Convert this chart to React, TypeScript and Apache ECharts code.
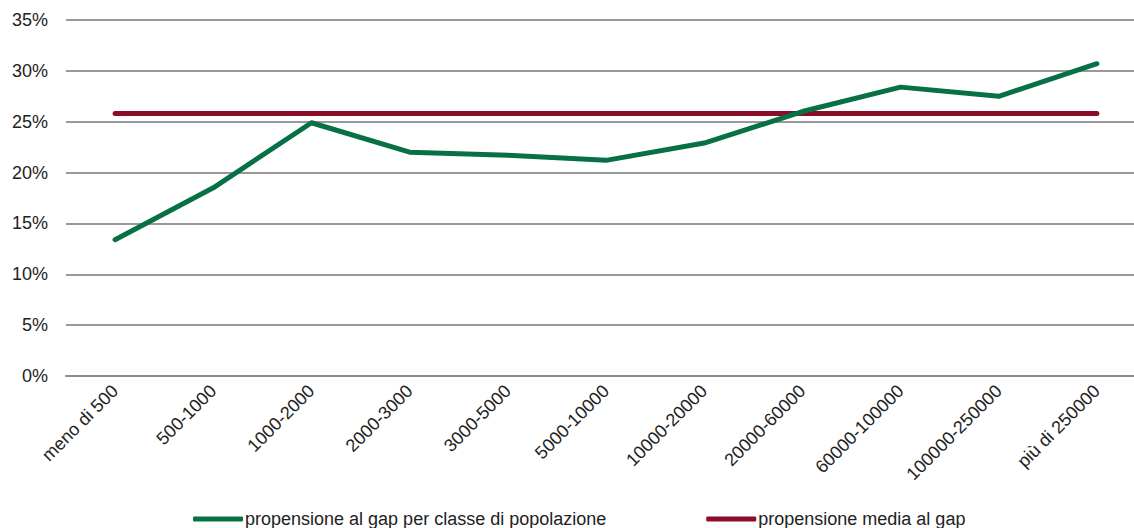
import React, { useEffect, useRef } from "react";
import * as echarts from "echarts";

const categories = [
  "meno di 500",
  "500-1000",
  "1000-2000",
  "2000-3000",
  "3000-5000",
  "5000-10000",
  "10000-20000",
  "20000-60000",
  "60000-100000",
  "100000-250000",
  "più di 250000",
];
const greenValues = [13.4, 18.5, 24.9, 22.0, 21.7, 21.2, 22.9, 26.0, 28.4, 27.5, 30.7];
const redValues = [25.8, 25.8, 25.8, 25.8, 25.8, 25.8, 25.8, 25.8, 25.8, 25.8, 25.8];
const seriesNames = ["propensione al gap per classe di popolazione", "propensione media al gap"];

export default function App() {
  const ref = useRef<HTMLDivElement>(null);
  useEffect(() => {
    if (!ref.current) return;
    const chart = echarts.init(ref.current, undefined, { renderer: "svg" });
    chart.setOption({
      animation: false,
      backgroundColor: "#ffffff",
      textStyle: { fontFamily: "Liberation Sans" },
      grid: { left: 66, right: 4, top: 20, height: 356, containLabel: false },
      legend: {
        top: 505,
        left: 188,
        itemWidth: 50,
        itemHeight: 5,
        itemGap: 100,
        icon: "roundRect",
        textStyle: { fontFamily: "Liberation Sans", fontSize: 18, color: "#222", padding: [0, 0, 0, -3] },
        data: seriesNames,
      },
      xAxis: {
        type: "category",
        data: categories,
        boundaryGap: true,
        axisLine: { show: true, lineStyle: { color: "#8c8c8c", width: 2 } },
        axisTick: { show: false },
        axisLabel: {
          rotate: 45,
          interval: 0,
          fontSize: 18,
          color: "#222",
          margin: 12,
        },
      },
      yAxis: {
        type: "value",
        min: 0,
        max: 35,
        interval: 5,
        axisLine: { show: false },
        axisTick: { show: false },
        splitLine: { lineStyle: { color: "#999999", width: 2 } },
        axisLabel: { formatter: "{value}%", fontSize: 18, color: "#222", margin: 18 },
      },
      series: [
        {
          name: seriesNames[0],
          type: "line",
          data: greenValues,
          symbol: "none",
          lineStyle: { color: "#087045", width: 5, cap: "round", join: "round" },
          itemStyle: { color: "#087045" },
          z: 3,
        },
        {
          name: seriesNames[1],
          type: "line",
          data: redValues,
          symbol: "none",
          lineStyle: { color: "#8c0d26", width: 5, cap: "round" },
          itemStyle: { color: "#8c0d26" },
          z: 2,
        },
      ],
    });
    return () => chart.dispose();
  }, []);
  return (
    <div style={{ position: "absolute", left: 0, top: 0, width: 1134, height: 528, overflow: "hidden" }}>
      <div ref={ref} style={{ width: 1150, height: 528 }} />
    </div>
  );
}
